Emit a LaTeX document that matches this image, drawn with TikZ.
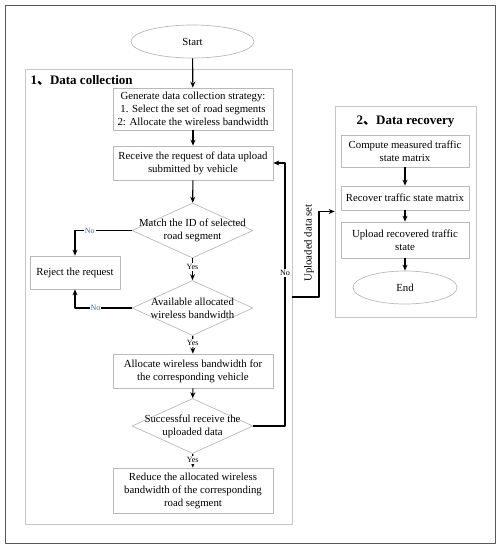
\documentclass[tikz,border=0pt]{standalone}
\usepackage{fontspec}
\setmainfont{Liberation Serif}
\newfontfamily\cjk{Noto Sans CJK SC}
\usetikzlibrary{shapes.geometric,arrows.meta}
\definecolor{noblue}{HTML}{3A68A8}
\begin{document}
\begin{tikzpicture}[x=1pt, y=-1pt, font=\fontsize{10.8}{13}\selectfont, line join=round, >={Stealth[length=6pt,width=5pt]},
	box/.style={draw=gray!55, line width=0.7pt, align=center, inner sep=0pt, minimum width=160pt},
	rbox/.style={box, minimum width=128pt},
	dec/.style={draw=gray!55, line width=0.7pt, diamond, minimum width=121pt, minimum height=55pt, inner sep=0pt},
	term/.style={draw=gray!55, line width=0.7pt, ellipse, inner sep=0pt, minimum height=33pt},
	stage/.style={draw=gray!45, line width=0.7pt, inner sep=0pt},
	flow/.style={->, line width=1.1pt},
	ans/.style={font=\fontsize{8}{9}\selectfont, fill=white, inner sep=1pt}]
	\useasboundingbox (0,0) rectangle (500,550);
	\draw[gray!70!black, line width=0.9pt] (5,5) rectangle (495,543);
	% stages
	\node[stage, minimum width=267pt, minimum height=455pt] (dc) at (158.5,296.5) {};
	\node[stage, minimum width=141pt, minimum height=211pt] (dr) at (405.5,211.5) {};
	\node[anchor=west, font=\fontsize{13}{15}\selectfont\bfseries] (t1) at (27,80) {1{\cjk 、}Data collection};
	\node[font=\fontsize{13}{15}\selectfont\bfseries] (t2) at (405.5,122) {2{\cjk 、}Data recovery};
	% data collection
	\node[term, minimum width=123pt] (start) at (192.5,41.5) {Start};
	\node[box, minimum height=42pt] (gen) at (193,109) {Generate data collection strategy:\\1. Select the set of road segments\\2: Allocate the wireless bandwidth};
	\node[box, minimum height=34pt] (recv) at (193,163) {Receive the request of data upload\\submitted by vehicle};
	\node[dec, label={[align=center]center:Match the ID of selected\\road segment}] (d1) at (192.5,230.5) {};
	\node[dec, label={[align=center]center:Available allocated\\wireless bandwidth}] (d2) at (192.5,308) {};
	\node[box, minimum height=34pt] (alloc) at (193,371) {Allocate wireless bandwidth for\\the corresponding vehicle};
	\node[dec, label={[align=center]center:Successful receive the\\uploaded data}] (d3) at (192.5,426) {};
	\node[box, minimum height=45pt] (red) at (193,490.5) {Reduce the allocated wireless\\bandwidth of the corresponding\\road segment};
	\node[box, minimum width=90pt, minimum height=33pt] (rej) at (75,272.5) {Reject the request};
	% data recovery
	\node[rbox, minimum height=32pt] (comp) at (405,151) {Compute measured traffic\\state matrix};
	\node[rbox, minimum height=24pt] (rec) at (405,198) {Recover traffic state matrix};
	\node[rbox, minimum height=36pt] (upl) at (405,240) {Upload recovered traffic\\state};
	\node[term, minimum width=104pt] (end) at (405,287.5) {End};
	\coordinate (noX) at (285,273);
	\coordinate (upA) at (292,297);
	\coordinate (upB) at (319,255);
	% connectors
	\draw[flow] (start) -- (gen);
	\draw[flow] (gen) -- (recv);
	\draw[flow] (recv) -- (d1);
	\draw[flow] (d1) -- node[ans, pos=0.4]{Yes} (d2);
	\draw[flow] (d2) -- node[ans, pos=0.4]{Yes} (alloc);
	\draw[flow] (alloc) -- (d3);
	\draw[flow] (d3) -- node[ans, pos=0.45]{Yes} (red);
	\draw[flow] (d1.west) -| node[ans, pos=0.37, text=noblue]{No} (rej.north);
	\draw[flow] (d2.west) -| node[ans, pos=0.32, text=noblue]{No} (rej.south);
	\draw[flow] (d3.east) -| (noX) node[ans]{No} |- (recv.east);
	\draw[flow] (upA) -| (upB) |- (dr.west);
	\node[rotate=90, font=\fontsize{10.8}{12}\selectfont] (upl-lab) at (309,243) {Uploaded data set};
	\draw[flow] (comp) -- (rec);
	\draw[flow] (rec) -- (upl);
	\draw[flow] (upl) -- (end);
\end{tikzpicture}
\end{document}
